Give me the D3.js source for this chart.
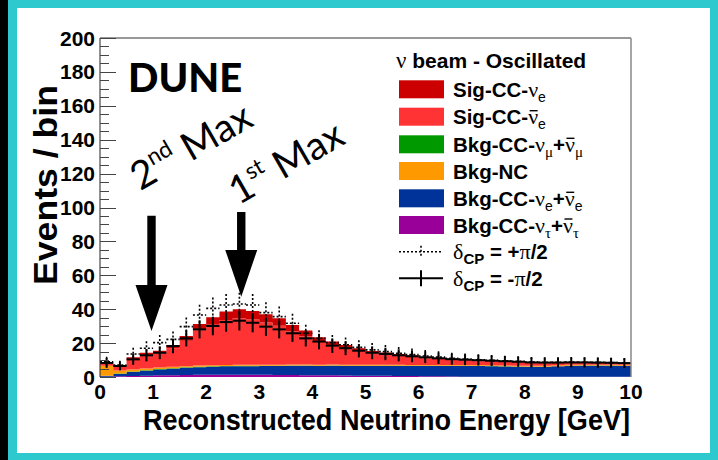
<!DOCTYPE html>
<html><head><meta charset="utf-8">
<script src="https://cdn.jsdelivr.net/npm/d3@7"></script>
<style>body{margin:0;background:#000}svg{display:block}</style>
</head><body><svg id="c" width="718" height="460"></svg>
<script>
// Reconstructed energy bins (lower edges, GeV), 0.25 GeV wide
const binLow = [0,0.25,0.5,0.75,1,1.25,1.5,1.75,2,2.25,2.5,2.75,3,3.25,3.5,3.75,4,4.25,4.5,4.75,
                5,5.25,5.5,5.75,6,6.25,6.5,6.75,7,7.25,7.5,7.75,8,8.25,8.5,8.75,9,9.25,9.5,9.75];
const binWidth = 0.25;

// Stacked components, events per bin (bottom to top)
const bkgNuTau = [0.2,0.4,0.6,0.8,1.0,1.1,1.2,1.3,1.4,1.4,1.4,1.3,1.3,1.2,1.2,1.1,1.0,1.0,0.9,0.8,
                  0.8,0.7,0.6,0.6,0.5,0.4,0.3,0.2,0.1,0.1,0.1,0.1,0.1,0.1,0.1,0.1,0.1,0.1,0.1,0.1];
const bkgBeamNue = [0.4,1.4,2.3,2.9,3.4,3.8,4.2,4.5,4.7,4.9,5.0,5.1,5.2,5.3,5.4,5.5,5.5,5.6,5.6,5.7,
                    5.7,5.8,5.9,5.9,6.0,6.1,6.2,6.3,6.4,6.3,6.1,6.0,5.9,5.9,6.2,6.5,6.6,6.6,6.6,6.5];
const bkgNuMu = [0.1,0.2,0.3,0.3,0.3,0.3,0.3,0.3,0.3,0.2,0.2,0.2,0.2,0.2,0.2,0.2,0.2,0.2,0.2,0.2,
                 0.2,0.2,0.2,0.1,0.1,0.1,0.1,0.1,0.1,0.1,0.1,0.1,0.1,0.1,0.1,0.1,0.1,0.1,0.1,0.1];
const bkgNC = [6.0,1.8,1.2,1.0,0.9,0.8,0.7,0.7,0.6,0.6,0.6,0.6,0.6,0.6,0.6,0.6,0.6,0.6,0.6,0.5,
               0.5,0.5,0.5,0.5,0.5,0.5,0.5,0.5,0.5,0.5,0.5,0.5,0.5,0.5,0.5,0.5,0.5,0.5,0.5,0.5];
const sigNuebar = [1.4,2.3,6.2,8.0,8.4,10.9,15.0,20.7,23.8,26.5,27.5,26.7,24.9,22.9,19.5,16.7,13.4,11.2,9.6,8.1,
                   6.8,5.9,5.3,4.7,4.0,3.5,3.0,2.6,2.2,2.1,2.0,1.8,1.7,1.5,1.3,1.2,1.0,0.9,0.8,0.8];
const sigNue = [0.3,0.4,1.0,1.3,1.5,2.0,2.8,3.8,4.4,5.0,5.2,5.1,4.8,4.4,3.8,3.3,2.7,2.3,2.0,1.7,
                1.4,1.3,1.1,1.0,0.9,0.8,0.7,0.6,0.6,0.5,0.5,0.5,0.4,0.4,0.4,0.3,0.3,0.3,0.3,0.2];

// Predictions drawn as error crosses
const deltaPlus = [9.0,7.0,13.6,17.0,20.3,22.2,29.7,36.6,40.5,42.5,43.1,42.5,38.0,35.6,31.7,25.8,22.8,20.3,19.0,17.5,
                   16.0,15.0,14.0,13.2,12.4,11.7,11.0,10.6,10.2,9.8,9.5,9.2,8.8,8.7,8.7,8.8,8.7,8.6,8.5,8.3];
const deltaMinus = [8.3,6.5,10.4,12.8,14.3,18.3,22.8,28.1,30.1,32.4,33.2,32.0,29.7,28.1,25.8,22.8,20.9,18.5,17.0,15.5,
                    14.3,13.6,12.8,12.2,11.6,11.0,10.5,10.2,9.9,9.6,9.3,9.0,8.6,8.5,8.5,8.6,8.6,8.5,8.4,8.2];

const xTicks = [0,1,2,3,4,5,6,7,8,9,10];
const yTicks = [0,20,40,60,80,100,120,140,160,180,200];

// Arrow annotations: energy, shaft top, head base, tip (events)
const arrowE = [0.97, 2.66];
const arrowTop = [95.2, 97.4];
const arrowHead = [54.3, 75.0];
const arrowTip = [27.1, 47.3];

const layerKeys = ["nutau","beamnue","numu","nc","nuebar","nue"];
const layerColors = {nutau:"#990099", beamnue:"#003399", numu:"#009900", nc:"#ff9900", nuebar:"#ff3333", nue:"#cc0000"};

const svg = d3.select("#c");
const W = 718, H = 460;
const L = 100, R = 631, T = 38, B = 377;

// page frame
svg.append("rect").attr("x",0).attr("y",0).attr("width",W).attr("height",H).attr("fill","#000");
svg.append("rect").attr("x",8).attr("y",0).attr("width",W-8).attr("height",H).attr("fill","#2ec8cf");
svg.append("rect").attr("x",17).attr("y",8).attr("width",693).attr("height",445).attr("fill","#fff");

const x = d3.scaleLinear().domain([0,10]).range([L,R]);
const y = d3.scaleLinear().domain([0,200]).range([B,T]);

const rows = binLow.map((lo,i)=>({lo, nutau:bkgNuTau[i], beamnue:bkgBeamNue[i], numu:bkgNuMu[i], nc:bkgNC[i], nuebar:sigNuebar[i], nue:sigNue[i]}));
const stack = d3.stack().keys(layerKeys)(rows);

const g = svg.append("g");
const area = d3.area().curve(d3.curveStepAfter)
  .x(d=>x(d.data.lo)).y0(d=>y(d[0])).y1(d=>y(d[1]));

stack.forEach(layer=>{
  const pts = layer.slice();
  const last = layer[layer.length-1];
  const endPt = [last[0], last[1]]; endPt.data = {lo: last.data.lo + binWidth};
  pts.push(endPt);
  g.append("path").attr("d", area(pts)).attr("fill", layerColors[layer.key]).attr("stroke","none");
});

// error crosses
function crosses(vals, dashed, width){
  const cg = svg.append("g").attr("stroke","#000").attr("stroke-width",width).attr("fill","none");
  if (dashed) cg.attr("stroke-dasharray","2,2");
  vals.forEach((v,i)=>{
    const lo = binLow[i], c = lo + binWidth/2, e = Math.sqrt(v);
    cg.append("line").attr("x1",x(lo)).attr("x2",x(lo+binWidth)).attr("y1",y(v)).attr("y2",y(v));
    cg.append("line").attr("x1",x(c)).attr("x2",x(c)).attr("y1",y(v+e)).attr("y2",y(Math.max(0,v-e)));
  });
}
crosses(deltaPlus, true, 1.6);
crosses(deltaMinus, false, 2);

// frame
svg.append("line").attr("x1",L).attr("x2",R).attr("y1",T).attr("y2",T).attr("stroke","#333").attr("stroke-width",1);
svg.append("line").attr("x1",R).attr("x2",R).attr("y1",T).attr("y2",B).attr("stroke","#888").attr("stroke-width",1.5);
svg.append("line").attr("x1",L).attr("x2",L).attr("y1",T).attr("y2",B).attr("stroke","#222").attr("stroke-width",1);

// y axis ticks (major every 20, minor every 5)
const yt = svg.append("g").attr("stroke","#444").attr("stroke-width",1);
d3.range(0,201,5).forEach(v=>{
  const major = v % 20 === 0;
  yt.append("line").attr("x1",L).attr("x2",L + (major?16:9)).attr("y1",Math.round(y(v))+0.5).attr("y2",Math.round(y(v))+0.5);
});

const lab = {"font-family":"Liberation Sans, Arial, sans-serif","font-weight":"bold"};
function applyAttrs(sel, a){ Object.entries(a).forEach(([k,v])=>sel.attr(k,v)); return sel; }

yTicks.forEach(v=>{
  applyAttrs(svg.append("text"),lab).attr("x",95).attr("y",y(v)+7.5).attr("text-anchor","end")
    .attr("font-size",21).text(v);
});
xTicks.forEach(v=>{
  applyAttrs(svg.append("text"),lab).attr("x",x(v)).attr("y",398.5).attr("text-anchor","middle")
    .attr("font-size",21).text(v);
});

applyAttrs(svg.append("text"),lab).attr("x",143).attr("y",430)
  .attr("font-size",29).attr("textLength",487).attr("lengthAdjust","spacingAndGlyphs")
  .text("Reconstructed Neutrino Energy [GeV]");
applyAttrs(svg.append("text"),lab).attr("transform","translate(57,285) rotate(-90)")
  .attr("font-size",34).attr("textLength",200).attr("lengthAdjust","spacingAndGlyphs").text("Events / bin");

// DUNE label
svg.append("text").attr("x",128).attr("y",92).attr("font-family","Lato, sans-serif").attr("font-weight",900)
  .attr("font-size",40).text("DUNE");

// rotated annotations
function maxLabel(E, v, num, sup){
  const t = svg.append("text").attr("font-family","Lato, sans-serif").attr("font-size",39)
    .attr("transform",`translate(${x(E)},${y(v)}) rotate(-30)`);
  t.append("tspan").text(num);
  t.append("tspan").attr("font-size",23).attr("dy",-16).text(sup);
  t.append("tspan").attr("dy",16).text(" Max");
}
maxLabel(0.76, 109.6, "2", "nd");
maxLabel(2.61, 101.2, "1", "st");

arrowE.forEach((E,i)=>{
  const cx = x(E), sw = 4.2, hw = 16;
  const p = d3.path();
  p.moveTo(cx-sw, y(arrowTop[i])); p.lineTo(cx+sw, y(arrowTop[i]));
  p.lineTo(cx+sw, y(arrowHead[i])); p.lineTo(cx+hw, y(arrowHead[i]));
  p.lineTo(cx, y(arrowTip[i])); p.lineTo(cx-hw, y(arrowHead[i]));
  p.lineTo(cx-sw, y(arrowHead[i])); p.closePath();
  svg.append("path").attr("d",p.toString()).attr("fill","#000");
});

// legend
const legX = 399, legTextX = 453;
const legRows = [89.3,116.7,144.3,171,198.3,225,251.7,278.3];
const nu = "\u03bd";
const legendEntries = [
  {key:"nue", parts:[["Sig-CC-","b"],[nu,"s"],["e","sub"]]},
  {key:"nuebar", parts:[["Sig-CC-","b"],[nu,"sbar"],["e","sub"]]},
  {key:"numu", parts:[["Bkg-CC-","b"],[nu,"s"],["\u03bc","ssub"],["+","b"],[nu,"sbar"],["\u03bc","ssub"]]},
  {key:"nc", parts:[["Bkg-NC","b"]]},
  {key:"beamnue", parts:[["Bkg-CC-","b"],[nu,"s"],["e","sub"],["+","b"],[nu,"sbar"],["e","sub"]]},
  {key:"nutau", parts:[["Bkg-CC-","b"],[nu,"s"],["\u03c4","ssub"],["+","b"],[nu,"sbar"],["\u03c4","ssub"]]},
  {key:"plus", parts:[["\u03b4","s"],["CP","bsub"],[" = +","b"],["\u03c0","s"],["/2","b"]]},
  {key:"minus", parts:[["\u03b4","s"],["CP","bsub"],[" = -","b"],["\u03c0","s"],["/2","b"]]}
];

const title = svg.append("text").attr("x",396).attr("y",68).attr("font-size",21);
title.append("tspan").attr("font-family","Liberation Serif, serif").attr("font-size",23).text(nu);
title.append("tspan").attr("font-family","Liberation Sans, Arial, sans-serif").attr("font-weight","bold").text(" beam - Oscillated");

legendEntries.forEach((en,i)=>{
  const cy = legRows[i];
  if (layerColors[en.key]) {
    svg.append("rect").attr("x",legX).attr("y",cy-9).attr("width",45).attr("height",18).attr("fill",layerColors[en.key]);
  } else {
    const dashed = en.key === "plus";
    const lg = svg.append("g").attr("stroke","#000").attr("stroke-width",dashed?1.6:2);
    if (dashed) lg.attr("stroke-dasharray","2,2");
    lg.append("line").attr("x1",legX).attr("x2",legX+44).attr("y1",cy).attr("y2",cy);
    lg.append("line").attr("x1",legX+22).attr("x2",legX+22).attr("y1",cy-(dashed?6:8)).attr("y2",cy+(dashed?6:8));
  }
  const t = svg.append("text").attr("x",legTextX).attr("y",cy+7.5).attr("font-size",20.5);
  let shifted = false, idx = 0;
  const bars = [];
  en.parts.forEach(([s,k])=>{
    const ts = t.append("tspan").text(s);
    let dy = 0;
    if (k==="b") { ts.attr("font-family","Liberation Sans, Arial, sans-serif").attr("font-weight","bold"); }
    if (k==="s" || k==="sbar") { ts.attr("font-family","Liberation Serif, serif").attr("font-size",22); }
    if (k==="sbar") bars.push(idx);
    if (k==="sub") { ts.attr("font-family","Liberation Sans, Arial, sans-serif").attr("font-size",14); }
    if (k==="ssub") { ts.attr("font-family","Liberation Serif, serif").attr("font-size",15); }
    if (k==="bsub") { ts.attr("font-family","Liberation Sans, Arial, sans-serif").attr("font-weight","bold").attr("font-size",15); }
    const isSub = (k==="sub"||k==="ssub"||k==="bsub");
    if (isSub && !shifted) { dy = 5; shifted = true; }
    else if (!isSub && shifted) { dy = -5; shifted = false; }
    if (dy) ts.attr("dy",dy);
    idx += s.length;
  });
  // overline for antineutrino symbols
  bars.forEach(ci=>{
    const n = t.node();
    const s = n.getStartPositionOfChar(ci), e = n.getEndPositionOfChar(ci);
    svg.append("line").attr("x1",s.x+1.5).attr("x2",e.x-0.5).attr("y1",s.y-13.5).attr("y2",s.y-13.5)
      .attr("stroke","#000").attr("stroke-width",1.4);
  });
});
</script></body></html>
